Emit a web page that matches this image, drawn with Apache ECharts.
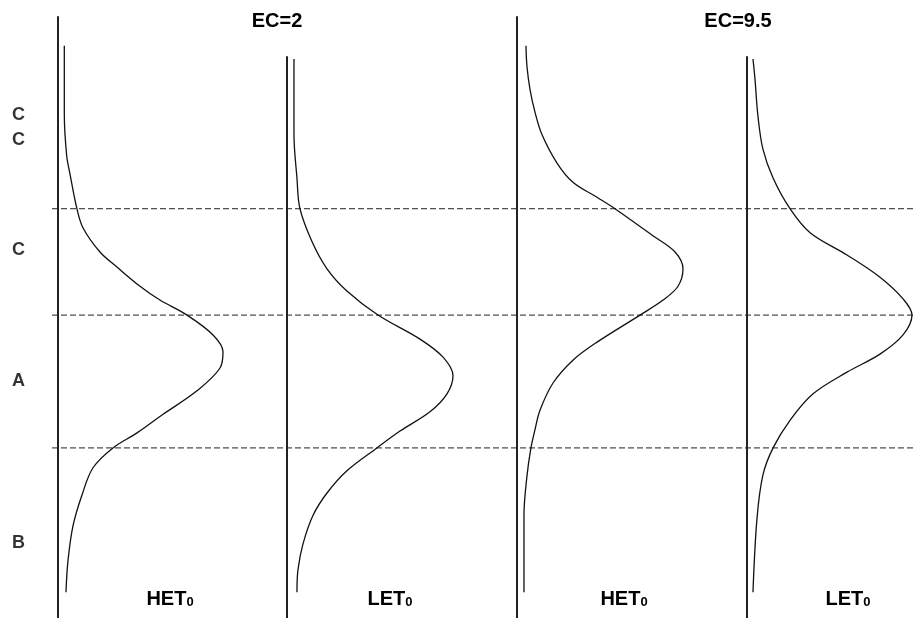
<!DOCTYPE html>
<html>
<head>
<meta charset="utf-8">
<script src="https://cdn.jsdelivr.net/npm/echarts@6/dist/echarts.min.js"></script>
<style>
  html, body { margin: 0; padding: 0; background: #fff; }
  #chart { width: 913px; height: 618px; }
</style>
</head>
<body>
<div id="chart"></div>
<script>
// ---- data ----
const panelTitles = ['EC=2', 'EC=9.5'];
const panelNames = ['HET', 'LET', 'HET', 'LET'];
const panelSub = '0';
const regionLabels = ['C', 'C', 'C', 'A', 'B'];
const regionLevels = [83.7, 79.5, 61.2, 39.4, 12.5];
const boundaryLevels = [68.1, 50.4, 28.3];

// panel 1: EC=2, HET0
const p1Level   = [95.2, 83.9, 77.0, 73.9, 68.1, 64.9, 60.9, 58.4, 55.2, 52.9, 50.4, 47.1, 44.3, 41.6, 37.8, 33.9, 30.8, 28.3, 25.0, 20.5, 15.3, 9.5, 4.3];
const p1Density = [0.038, 0.038, 0.052, 0.072, 0.114, 0.151, 0.253, 0.355, 0.494, 0.614, 0.777, 0.934, 0.994, 0.976, 0.837, 0.633, 0.476, 0.331, 0.211, 0.145, 0.090, 0.060, 0.048];
// panel 2: EC=2, LET0
const p2Level   = [93.0, 80.5, 73.2, 68.1, 62.6, 58.1, 54.4, 50.4, 46.4, 43.4, 40.3, 37.3, 34.3, 31.1, 28.3, 24.5, 20.8, 17.1, 12.3, 8.0, 4.3];
const p2Density = [0.042, 0.042, 0.060, 0.078, 0.151, 0.241, 0.361, 0.548, 0.801, 0.940, 1.000, 0.964, 0.861, 0.681, 0.542, 0.361, 0.241, 0.157, 0.096, 0.066, 0.060];
// panel 3: EC=9.5, HET0
const p3Level   = [95.2, 91.8, 88.0, 84.2, 80.4, 75.7, 72.5, 70.0, 68.1, 63.6, 60.9, 58.1, 55.2, 52.9, 50.4, 45.9, 42.9, 39.1, 34.6, 31.3, 28.3, 23.6, 17.1, 4.3];
const p3Density = [0.054, 0.060, 0.078, 0.108, 0.151, 0.241, 0.337, 0.482, 0.590, 0.819, 0.952, 1.000, 0.970, 0.880, 0.741, 0.482, 0.337, 0.217, 0.139, 0.108, 0.084, 0.060, 0.042, 0.042];
// panel 4: EC=9.5, LET0
const p4Level   = [93.0, 89.7, 83.5, 78.0, 73.2, 68.1, 64.1, 60.4, 56.7, 53.1, 50.4, 47.1, 43.9, 40.9, 37.3, 32.9, 28.3, 23.8, 16.5, 4.3];
const p4Density = [0.036, 0.048, 0.066, 0.096, 0.157, 0.259, 0.380, 0.602, 0.801, 0.940, 0.994, 0.940, 0.801, 0.602, 0.398, 0.259, 0.157, 0.096, 0.060, 0.036];

// ---- layout ----
const FONT = '"Liberation Sans", Arial, sans-serif';
const PX_PER_UNIT = 166;
const panels = [
  { left: 58,  top: 17, width: 229, level: p1Level, dens: p1Density, yMax: 100 },
  { left: 287, top: 57, width: 230, level: p2Level, dens: p2Density, yMax: 93.34 },
  { left: 517, top: 17, width: 230, level: p3Level, dens: p3Density, yMax: 100 },
  { left: 747, top: 57, width: 166, level: p4Level, dens: p4Density, yMax: 93.34 }
];
const labelCenters = [170, 390, 624, 848];
const titleCenters = [277, 738];

const chart = echarts.init(document.getElementById('chart'), null, { renderer: 'canvas' });

const grid = [{ left: 52, top: 17, right: 0, height: 601 }];
const xAxis = [{ gridIndex: 0, type: 'value', min: 0, max: 1, show: false }];
const yAxis = [{ gridIndex: 0, type: 'value', min: 0, max: 100, show: false }];
const series = [];

boundaryLevels.forEach(function (b) {
  series.push({
    type: 'line', xAxisIndex: 0, yAxisIndex: 0, silent: true,
    symbol: 'none', data: [[0, b], [1, b]],
    lineStyle: { color: '#222', width: 1, type: [6, 3] }
  });
});

panels.forEach(function (p, i) {
  const gi = i + 1;
  grid.push({ left: p.left, top: p.top, width: p.width, height: 618 - p.top });
  xAxis.push({ gridIndex: gi, type: 'value', min: 0, max: p.width / PX_PER_UNIT, show: false });
  yAxis.push({
    gridIndex: gi, type: 'value', min: 0, max: p.yMax, position: 'left',
    axisLine: { show: true, lineStyle: { color: '#222', width: 2 } },
    axisTick: { show: false }, axisLabel: { show: false }, splitLine: { show: false }
  });
  series.push({
    type: 'line', xAxisIndex: gi, yAxisIndex: gi, silent: true, clip: false,
    symbol: 'none', smooth: 0.35,
    data: p.level.map(function (v, k) { return [p.dens[k], v]; }),
    lineStyle: { color: '#111', width: 1.3 }
  });
});

// region labels on the left of panel 1
series.push({
  type: 'scatter', xAxisIndex: 1, yAxisIndex: 1, silent: true,
  symbolSize: 0,
  data: regionLabels.map(function (t, k) { return { value: [0, regionLevels[k]], name: t }; }),
  label: {
    show: true, position: 'left', distance: 33,
    formatter: function (d) { return d.name; },
    fontFamily: FONT, fontWeight: 'bold', fontSize: 18, color: '#000'
  }
});

const graphic = [];
panelTitles.forEach(function (t, k) {
  graphic.push({
    type: 'text', x: titleCenters[k], y: 21,
    style: { text: t, fill: '#000', font: 'bold 20px ' + FONT, textAlign: 'center', textVerticalAlign: 'middle' }
  });
});
panelNames.forEach(function (t, k) {
  graphic.push({
    type: 'text', x: labelCenters[k], y: 599,
    style: {
      text: '{a|' + t + '}{b|' + panelSub + '}',
      align: 'center', verticalAlign: 'middle',
      rich: {
        a: { fontFamily: FONT, fontWeight: 'bold', fontSize: 20, fill: '#000', lineHeight: 20, verticalAlign: 'top' },
        b: { fontFamily: FONT, fontWeight: 'bold', fontSize: 13, fill: '#000', lineHeight: 13, padding: [9, 0, 0, 0], verticalAlign: 'bottom' }
      }
    }
  });
});

chart.setOption({
  animation: false,
  backgroundColor: '#fff',
  grid: grid, xAxis: xAxis, yAxis: yAxis, series: series, graphic: graphic
});
</script>
</body>
</html>
